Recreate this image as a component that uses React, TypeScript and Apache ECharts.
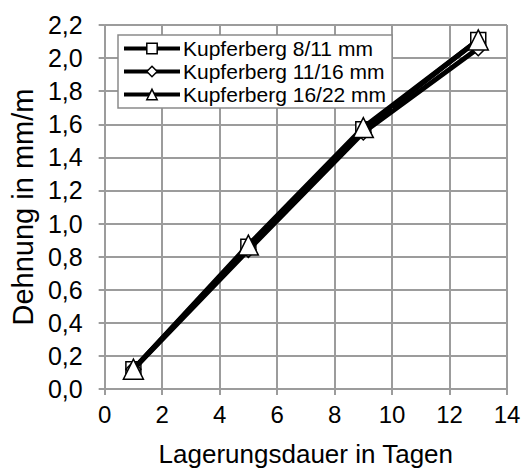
import React, { useEffect, useRef } from "react";
import * as echarts from "echarts";

const days = [1, 5, 9, 13];
const seriesNames = ["Kupferberg 8/11 mm", "Kupferberg 11/16 mm", "Kupferberg 16/22 mm"];
const kupfer811 = [0.12, 0.86, 1.57, 2.11];
const kupfer1116 = [0.12, 0.84, 1.55, 2.06];
const kupfer1622 = [0.12, 0.87, 1.58, 2.11];
const symbols = ["rect", "diamond", "triangle"];
const symbolSizes = [15, 15, 20];

export default function App() {
  const ref = useRef<HTMLDivElement>(null);
  useEffect(() => {
    document.body.style.margin = "0";
    const chart = echarts.init(ref.current!, null, { renderer: "svg" });
    const values = [kupfer811, kupfer1116, kupfer1622];
    const font = "Liberation Sans, Arial, sans-serif";
    const gray = "#9c9c9c";
    chart.setOption({
      animation: false,
      backgroundColor: "#ffffff",
      grid: { left: 103, right: 17, top: 25, bottom: 85, containLabel: false },
      xAxis: {
        type: "value",
        min: 0,
        max: 14,
        interval: 2,
        name: "Lagerungsdauer in Tagen",
        nameLocation: "middle",
        nameGap: 52,
        nameTextStyle: { fontFamily: font, fontSize: 26, color: "#000" },
        axisLine: { show: true, onZero: false, lineStyle: { color: gray, width: 2 } },
        axisTick: { show: true, length: 6, lineStyle: { color: gray, width: 2 } },
        axisLabel: { fontFamily: font, fontSize: 24, color: "#000", margin: 13 },
        splitLine: { show: true, lineStyle: { color: gray, width: 2 } },
      },
      yAxis: {
        type: "value",
        min: 0,
        max: 2.2,
        interval: 0.2,
        name: "Dehnung in mm/m",
        nameLocation: "middle",
        nameGap: 67,
        nameTextStyle: { fontFamily: font, fontSize: 29, color: "#000" },
        axisLine: { show: true, lineStyle: { color: gray, width: 2 } },
        axisTick: { show: true, length: 6, lineStyle: { color: gray, width: 2 } },
        axisLabel: {
          fontFamily: font,
          fontSize: 25,
          color: "#000",
          margin: 22,
          formatter: (v: number) => v.toFixed(1).replace(".", ","),
        },
        splitLine: { show: true, lineStyle: { color: gray, width: 2 } },
      },
      legend: {
        orient: "vertical",
        left: 118,
        top: 35,
        backgroundColor: "#ffffff",
        borderColor: "#8a8a8a",
        borderWidth: 1.5,
        padding: [3, 6, 3, 4],
        itemGap: 2,
        itemWidth: 56,
        itemHeight: 13,
        lineStyle: { width: 4, color: "#000" },
        itemStyle: { color: "#ffffff", borderColor: "#000", borderWidth: 1.5 },
        textStyle: { fontFamily: font, fontSize: 21, color: "#000", padding: [0, 0, 0, -2] },
        data: seriesNames,
      },
      series: seriesNames.map((name, i) => ({
        name,
        type: "line",
        data: days.map((d, j) => [d, values[i][j]]),
        symbol: symbols[i],
        symbolSize: symbolSizes[i],
        lineStyle: { color: "#000", width: 5 },
        itemStyle: { color: "#ffffff", borderColor: "#000", borderWidth: 1.5 },
        z: 2 + i,
      })),
    });
    return () => chart.dispose();
  }, []);
  return <div ref={ref} style={{ width: 524, height: 474 }} />;
}
